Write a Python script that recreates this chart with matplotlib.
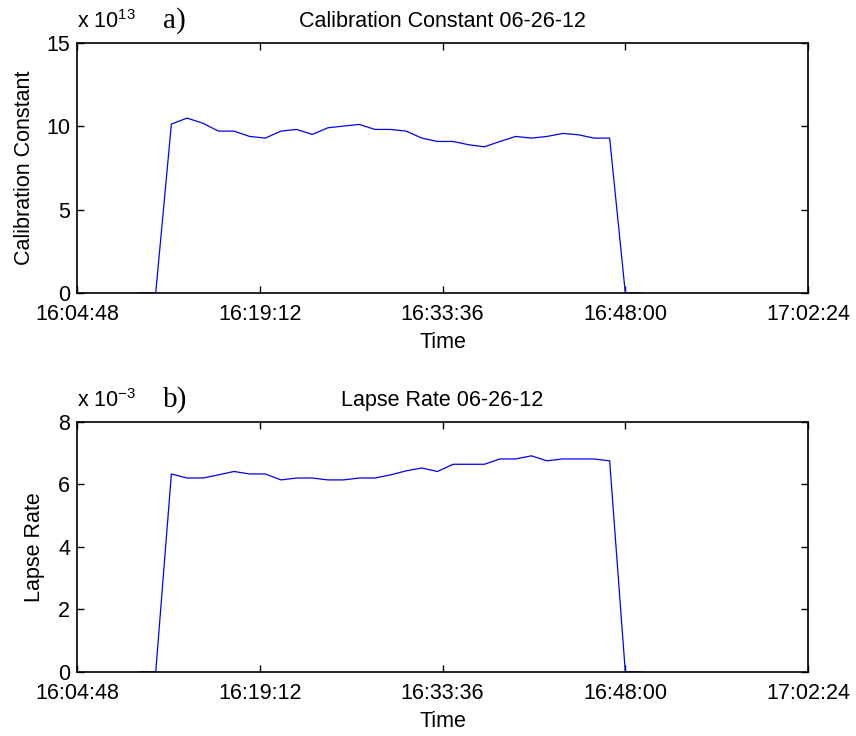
import matplotlib
matplotlib.use("Agg")
import matplotlib.pyplot as plt
import matplotlib.dates as mdates
import pandas as pd

plt.rcParams["font.family"] = ["Liberation Sans", "DejaVu Sans"]
plt.rcParams["mathtext.fontset"] = "custom"
plt.rcParams["mathtext.rm"] = "Liberation Sans"
plt.rcParams["mathtext.it"] = "Liberation Sans"

day = "2012-06-26"

# sample times (HH:MM:SS)
times = ["16:09:46", "16:11:00", "16:12:14", "16:13:28", "16:14:42", "16:15:56",
         "16:17:10", "16:18:24", "16:19:38", "16:20:52", "16:22:06", "16:23:20",
         "16:24:34", "16:25:48", "16:27:02", "16:28:16", "16:29:30", "16:30:44",
         "16:31:58", "16:33:12", "16:34:26", "16:35:40", "16:36:54", "16:38:08",
         "16:39:22", "16:40:36", "16:41:50", "16:43:04", "16:44:18", "16:45:32",
         "16:46:46", "16:48:00", "16:49:14"]

# calibration constant, in units of 1e13
calib = [0, 0, 10.12, 10.48, 10.18, 9.70, 9.70, 9.38, 9.28, 9.70, 9.80, 9.50,
         9.90, 10.00, 10.10, 9.80, 9.80, 9.70, 9.28, 9.08, 9.08, 8.88, 8.76,
         9.08, 9.38, 9.28, 9.38, 9.56, 9.48, 9.28, 9.28, 0, 0]

# lapse rate, in units of 1e-3
lapse = [0, 0, 6.33, 6.20, 6.20, 6.30, 6.41, 6.33, 6.33, 6.14, 6.20, 6.20,
         6.14, 6.14, 6.20, 6.20, 6.30, 6.43, 6.52, 6.41, 6.64, 6.64, 6.64,
         6.81, 6.81, 6.91, 6.75, 6.81, 6.81, 6.81, 6.75, 0, 0]

xtick_labels = ["16:04:48", "16:19:12", "16:33:36", "16:48:00", "17:02:24"]

t = pd.to_datetime([day + " " + s for s in times])
xticks = pd.to_datetime([day + " " + s for s in xtick_labels])

fig = plt.figure(figsize=(8.56, 7.36), dpi=100)
ax1 = fig.add_axes([0.090, 0.602, 0.854, 0.340])
ax2 = fig.add_axes([0.090, 0.087, 0.854, 0.340])

fs = 15.5

def style(ax, ymax, yticks):
    ax.set_xlim(xticks[0], xticks[-1])
    ax.set_xticks(xticks)
    ax.xaxis.set_major_formatter(mdates.DateFormatter("%H:%M:%S"))
    ax.set_ylim(0, ymax)
    ax.set_yticks(yticks)
    ax.tick_params(direction="in", length=5, width=1, labelsize=fs,
                   top=True, right=True)
    ax.tick_params(axis="x", pad=8)
    ax.tick_params(axis="y", pad=5)
    for s in ax.spines.values():
        s.set_linewidth(1.2)
    ax.set_xlabel("Time", fontsize=fs, labelpad=5)

ax1.plot(t, calib, color="blue", lw=0.9)
style(ax1, 15, [0, 5, 10, 15])
ax1.set_ylabel("Calibration Constant", fontsize=fs, labelpad=8)
ax1.set_title("Calibration Constant 06-26-12", fontsize=fs, pad=11)
ax1.text(0.0, 1.04, r"x 10$^{13}$", transform=ax1.transAxes, fontsize=fs,
         ha="left", va="bottom")
ax1.text(0.117, 1.035, "a)", transform=ax1.transAxes, fontsize=21,
         family="Liberation Serif", va="bottom")

ax2.plot(t, lapse, color="blue", lw=0.9)
style(ax2, 8, [0, 2, 4, 6, 8])
ax2.set_ylabel("Lapse Rate", fontsize=fs, labelpad=9)
ax2.set_title("Lapse Rate 06-26-12", fontsize=fs, pad=11)
ax2.text(0.0, 1.04, r"x 10$^{-3}$", transform=ax2.transAxes, fontsize=fs,
         ha="left", va="bottom")
ax2.text(0.117, 1.035, "b)", transform=ax2.transAxes, fontsize=21,
         family="Liberation Serif", va="bottom")

fig.savefig("out.png", dpi=100)
